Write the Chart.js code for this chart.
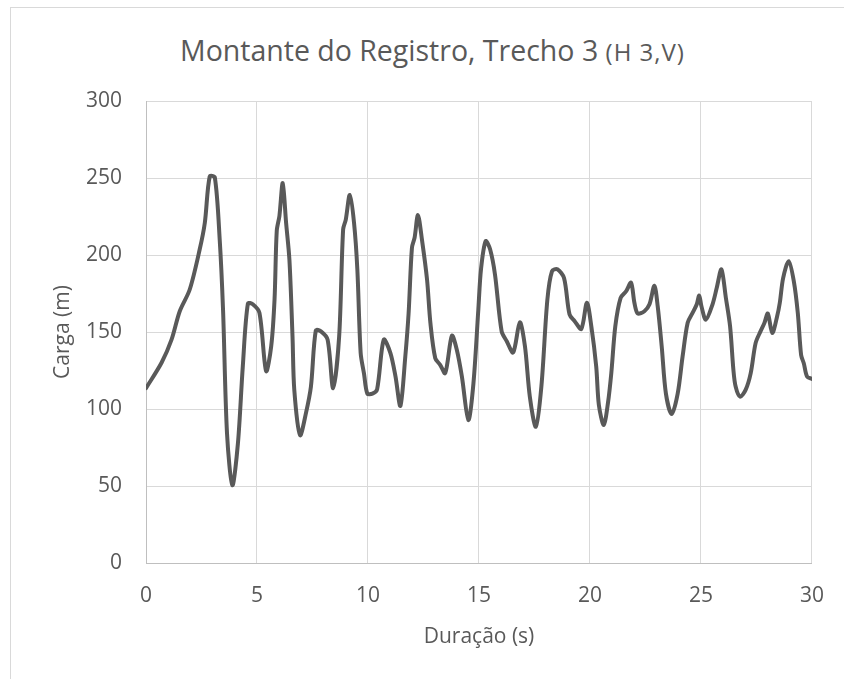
<!DOCTYPE html>
<html>
<head>
<meta charset="utf-8">
<script src="https://cdn.jsdelivr.net/npm/chart.js@4/dist/chart.umd.min.js"></script>
<style>
  html, body { margin: 0; padding: 0; background: #fff; overflow: hidden; }
  #wrap { position: relative; width: 844px; height: 679px; }
  #frame { position: absolute; left: 10px; top: 7px; width: 900px; height: 700px;
           border-left: 1px solid #d9d9d9; border-top: 1px solid #d9d9d9; }
  #title { position: absolute; left: 180px; top: 33px;
           white-space: nowrap; font-family: "Open Sans", sans-serif; color: #595959;
           font-size: 28.5px; line-height: 34px; }
  #title small { font-size: 24px; letter-spacing: 1px; }
  canvas { position: absolute; left: 0; top: 0; }
</style>
</head>
<body>
<div id="wrap">
  <div id="frame"></div>
  <div id="title">Montante do Registro, Trecho 3 <small>(H 3,V)</small></div>
  <canvas id="chart" width="844" height="679"></canvas>
</div>
<script>
// tempo (s) e carga (m)
var duracao = [
  0, 0.7, 1.15, 1.52, 1.97, 2.42, 2.65, 2.87, 3.1, 3.32,
  3.47, 3.65, 3.89, 4.14, 4.36, 4.59, 4.81, 5.11, 5.41, 5.64,
  5.79, 5.89, 6.01, 6.16, 6.31, 6.46, 6.6, 6.68, 6.94, 7.2,
  7.43, 7.65, 7.88, 8.18, 8.43, 8.7, 8.88, 9.0, 9.18, 9.37,
  9.52, 9.67, 9.82, 9.97, 10.2, 10.41, 10.71, 11.01, 11.24, 11.46,
  11.68, 11.83, 11.98, 12.1, 12.25, 12.43, 12.66, 12.81, 13.03, 13.25,
  13.48, 13.78, 14.0, 14.23, 14.52, 14.75, 14.97, 15.09, 15.3, 15.5,
  15.72, 16.02, 16.25, 16.54, 16.84, 17.07, 17.29, 17.56, 17.81, 18.08,
  18.29, 18.53, 18.83, 19.08, 19.31, 19.61, 19.86, 20.06, 20.28, 20.4,
  20.62, 20.81, 20.96, 21.14, 21.38, 21.63, 21.85, 22.0, 22.15, 22.45,
  22.68, 22.9, 23.05, 23.23, 23.42, 23.68, 23.95, 24.17, 24.4, 24.62,
  24.81, 24.92, 25.02, 25.22, 25.52, 25.71, 25.92, 26.12, 26.31, 26.46,
  26.56, 26.76, 27.01, 27.24, 27.46, 27.68, 27.86, 28.01, 28.21, 28.43,
  28.55, 28.7, 28.95, 29.18, 29.36, 29.51, 29.63, 29.78, 30.0
];
var carga = [
  113.5, 130, 145, 163.5, 177.6, 203.7, 221, 251, 250.4, 210,
  164.6, 84, 50.5, 77.6, 127.6, 168.5, 168, 162.4, 124.6, 140.7,
  171, 215.7, 225.4, 246.7, 221, 197, 147, 112.4, 83, 97,
  114.6, 151, 150.4, 145, 113.5, 147, 216.7, 223, 239, 221,
  190.7, 136.3, 123, 110, 110, 112.8, 145, 136.3, 121, 102,
  134, 162.4, 204.8, 211.3, 225.9, 210, 184, 156, 133, 128.7,
  123.3, 147.6, 138.5, 121, 92.8, 116.7, 164.6, 190.7, 209, 203.7,
  187.4, 150.4, 144, 136.7, 156.3, 140.7, 108, 88.5, 114.6, 171,
  189.6, 190.7, 185, 161.3, 157, 152, 169, 153.7, 127.6, 102.6,
  89.6, 104, 123.3, 153.7, 172.2, 176.5, 182, 169, 162, 163.5,
  168, 180, 166.7, 140.7, 110, 96.7, 110, 134, 156, 162.4,
  168, 173.7, 166.7, 158, 168, 178.7, 190.7, 172.2, 153.7, 125.4,
  114.6, 108, 112.4, 123.3, 142.8, 150.4, 156, 162, 149.3, 160.2,
  169, 185, 196, 183, 162.4, 135, 129.7, 121, 119.6
];
var xTicks = [0, 5, 10, 15, 20, 25, 30];
var yTicks = [0, 50, 100, 150, 200, 250, 300];

var textColor = '#595959';
var fontFamily = '"Open Sans", sans-serif';

var points = duracao.map(function (t, i) { return { x: t, y: carga[i] }; });

new Chart(document.getElementById('chart').getContext('2d'), {
  type: 'scatter',
  data: {
    datasets: [{
      label: 'H 3,V',
      data: points,
      showLine: true,
      borderColor: '#595959',
      borderWidth: 4,
      pointRadius: 0,
      tension: 0.3,
      borderCapStyle: 'round',
      borderJoinStyle: 'round'
    }]
  },
  options: {
    responsive: false,
    animation: false,
    layout: { padding: { top: 101, right: 30, left: 0, bottom: 0 } },
    plugins: { legend: { display: false }, tooltip: { enabled: false }, title: { display: false } },
    scales: {
      x: {
        type: 'linear',
        min: xTicks[0],
        max: xTicks[xTicks.length - 1],
        afterBuildTicks: function (axis) { axis.ticks = xTicks.map(function (v) { return { value: v }; }); },
        afterFit: function (axis) { axis.height = 116; },
        grid: { color: '#d9d9d9', lineWidth: 1, drawTicks: false },
        border: { color: '#bfbfbf', width: 1 },
        ticks: { color: textColor, padding: 20, font: { family: fontFamily, size: 21 } },
        title: { display: true, text: 'Duração (s)', color: textColor,
                 font: { family: fontFamily, size: 21 }, padding: { top: 0, bottom: 29 } }
      },
      y: {
        min: yTicks[0],
        max: yTicks[yTicks.length - 1],
        afterBuildTicks: function (axis) { axis.ticks = yTicks.map(function (v) { return { value: v }; }); },
        afterFit: function (axis) { axis.width = 146; },
        grid: { color: '#d9d9d9', lineWidth: 1, drawTicks: false },
        border: { color: '#bfbfbf', width: 1 },
        ticks: { color: textColor, padding: 24, font: { family: fontFamily, size: 21 } },
        title: { display: true, text: 'Carga (m)', color: textColor,
                 font: { family: fontFamily, size: 21 }, padding: { top: 50, bottom: 0 } }
      }
    }
  }
});
</script>
</body>
</html>
